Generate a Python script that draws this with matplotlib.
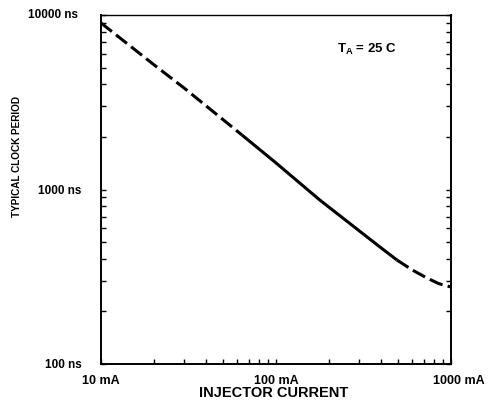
import matplotlib
matplotlib.use("Agg")
import matplotlib.pyplot as plt
from matplotlib.ticker import FixedLocator, LogLocator, NullFormatter
from matplotlib.transforms import ScaledTranslation

plt.rcParams["font.family"] = ["Liberation Sans", "DejaVu Sans"]
plt.rcParams["font.weight"] = "bold"
plt.rcParams["mathtext.fontset"] = "custom"
plt.rcParams["mathtext.rm"] = "Liberation Sans:bold"
plt.rcParams["lines.scale_dashes"] = False

# Typical clock period versus injector current (log-log)
low_current_ma = [10, 20, 30, 64]
low_period_ns = [9000, 5200, 3800, 2050]

mid_current_ma = [64, 100, 178, 300, 393, 490]
mid_period_ns = [2050, 1420, 870, 578, 468, 395]

high_current_ma = [490, 600, 729, 850, 1000]
high_period_ns = [395, 346, 311, 289, 276]

x_ticks = [10, 100, 1000]
x_tick_labels = ["10 mA", "100 mA", "1000 mA"]
y_ticks = [100, 1000, 10000]
y_tick_labels = ["100 ns", "1000 ns", "10000 ns"]

fig = plt.figure(figsize=(4.89, 4.04), dpi=100)
ax = fig.add_axes([101 / 489, 1 - 364 / 404, 350 / 489, 349 / 404])

line_kw = dict(color="black", linewidth=2.2, solid_capstyle="butt", dash_capstyle="butt")
ax.plot(low_current_ma, low_period_ns, dashes=(10, 3.8), **line_kw)
ax.plot(mid_current_ma, mid_period_ns, linestyle="-", **line_kw)
ax.plot(high_current_ma, high_period_ns, dashes=(10, 3.8), **line_kw)

ax.set_xscale("log")
ax.set_yscale("log")
ax.set_xlim(10, 1000)
ax.set_ylim(100, 10000)

ax.xaxis.set_major_locator(FixedLocator(x_ticks))
ax.set_xticklabels(x_tick_labels)
ax.yaxis.set_major_locator(FixedLocator(y_ticks))
ax.set_yticklabels(y_tick_labels)
ax.xaxis.set_minor_locator(LogLocator(base=10, subs=range(2, 10)))
ax.yaxis.set_minor_locator(LogLocator(base=10, subs=range(2, 10)))
ax.xaxis.set_minor_formatter(NullFormatter())
ax.yaxis.set_minor_formatter(NullFormatter())

ax.tick_params(which="both", direction="in", length=3.6, width=1.0,
               top=False, right=True, left=True, bottom=True)
ax.tick_params(axis="y", which="major", pad=14, labelsize=8.5)
ax.tick_params(axis="x", which="major", pad=8, labelsize=9)

# small nudges for the end labels
labels = ax.get_xticklabels()
labels[-1].set_transform(labels[-1].get_transform()
                         + ScaledTranslation(8 / 100, 0, fig.dpi_scale_trans))
ylabels = ax.get_yticklabels()
ylabels[-1].set_transform(ylabels[-1].get_transform()
                          + ScaledTranslation(-4 / 100, 2 / 100, fig.dpi_scale_trans))

for side in ["left", "bottom", "right"]:
    ax.spines[side].set_linewidth(1.4)
ax.spines["top"].set_linewidth(1.0)

ax.set_xlabel("INJECTOR CURRENT", fontsize=10.5, fontweight="bold")
ax.xaxis.set_label_coords(0.494, -0.064)
ax.set_ylabel("TYPICAL CLOCK PERIOD", fontsize=7.2, fontweight="bold")
ax.yaxis.set_label_coords(-0.226, 0.595)

ax.text(0.674, 0.891, r"T$_{\mathrm{A}}$ = 25 C", transform=ax.transAxes,
        ha="left", va="baseline", fontsize=9.5, fontweight="bold")

fig.savefig("out.png", dpi=100)
